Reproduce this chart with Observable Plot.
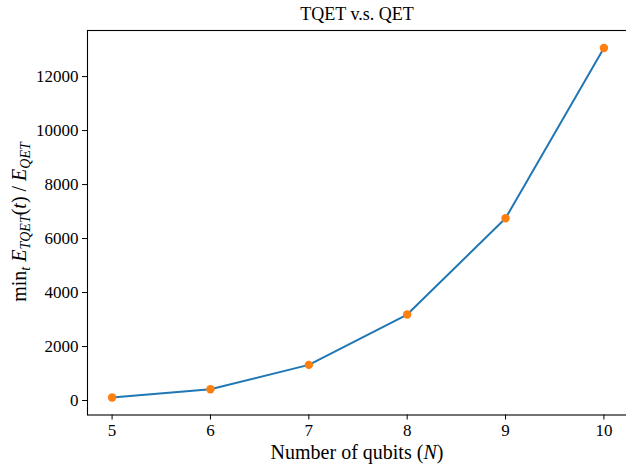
<!DOCTYPE html>
<html>
<head>
<meta charset="utf-8">
<script src="https://cdn.jsdelivr.net/npm/d3@7"></script>
<script src="https://cdn.jsdelivr.net/npm/@observablehq/plot@0.6"></script>
<style>
  html, body { margin: 0; padding: 0; background: #fff; }
  svg { display: block; }
</style>
</head>
<body>
<div id="chart"></div>
<script>
const qubits = [5, 6, 7, 8, 9, 10];
const ratio = [111, 420, 1320, 3185, 6752, 13060];
const xTicks = [5, 6, 7, 8, 9, 10];
const yTicks = [0, 2000, 4000, 6000, 8000, 10000, 12000];
const titleText = "TQET v.s. QET";

const data = qubits.map((q, i) => ({q, r: ratio[i]}));
const serif = "Liberation Serif";

const W = 626, H = 464;
const svg = Plot.plot({
  width: W,
  height: H,
  marginLeft: 87,
  marginRight: -2,
  marginTop: 30,
  marginBottom: 49.5,
  style: {fontFamily: serif, fontSize: "17px", color: "#000", background: "#fff"},
  x: {domain: [4.75, 10.25], label: null},
  y: {domain: [-536, 13707], label: null},
  marks: [
    Plot.axisX({ticks: xTicks, tickSize: 5, tickPadding: 4, tickFormat: d => String(d), label: null, fontSize: 17, fontFamily: serif}),
    Plot.axisY({ticks: yTicks, tickSize: 5, tickPadding: 4, tickFormat: d => String(d), label: null, fontSize: 17, fontFamily: serif}),
    Plot.line(data, {x: "q", y: "r", stroke: "#1f77b4", strokeWidth: 2}),
    Plot.dot(data, {x: "q", y: "r", fill: "#ff7f0e", r: 4.2}),
    Plot.frame({stroke: "#000", strokeWidth: 1.1})
  ]
});
document.getElementById("chart").appendChild(svg);

const s = d3.select(svg);
s.selectAll("g[aria-label$='tick label'] text")
  .attr("font-family", serif).attr("font-size", 17)
  .style("font-family", serif).style("font-size", "17px").style("fill", "#000")
  .each(function() { this.getComputedTextLength(); });

// Title
s.append("text")
  .attr("x", 357).attr("y", 20)
  .attr("text-anchor", "middle")
  .attr("font-family", serif).attr("font-size", "18px").attr("fill", "#000")
  .text(titleText);

// X label
const xl = s.append("text")
  .attr("x", 357).attr("y", 459)
  .attr("text-anchor", "middle")
  .attr("font-family", serif).attr("font-size", "20px").attr("fill", "#000");
xl.append("tspan").text("Number of qubits (");
xl.append("tspan").attr("font-style", "italic").text("N");
xl.append("tspan").text(")");

// Y label
const yl = s.append("text")
  .attr("transform", "translate(26,222) rotate(-90)")
  .attr("text-anchor", "middle")
  .attr("font-family", serif).attr("font-size", "20px").attr("fill", "#000");
yl.append("tspan").text("min");
yl.append("tspan").attr("font-style", "italic").attr("font-size", "14px").attr("dy", 4).text("t");
yl.append("tspan").attr("font-style", "italic").attr("dy", -4).text(" E");
yl.append("tspan").attr("font-style", "italic").attr("font-size", "14px").attr("dy", 4).text("TQET");
yl.append("tspan").attr("dy", -4).text("(");
yl.append("tspan").attr("font-style", "italic").text("t");
yl.append("tspan").text(") / ");
yl.append("tspan").attr("font-style", "italic").text("E");
yl.append("tspan").attr("font-style", "italic").attr("font-size", "14px").attr("dy", 4).text("QET");
</script>
</body>
</html>
